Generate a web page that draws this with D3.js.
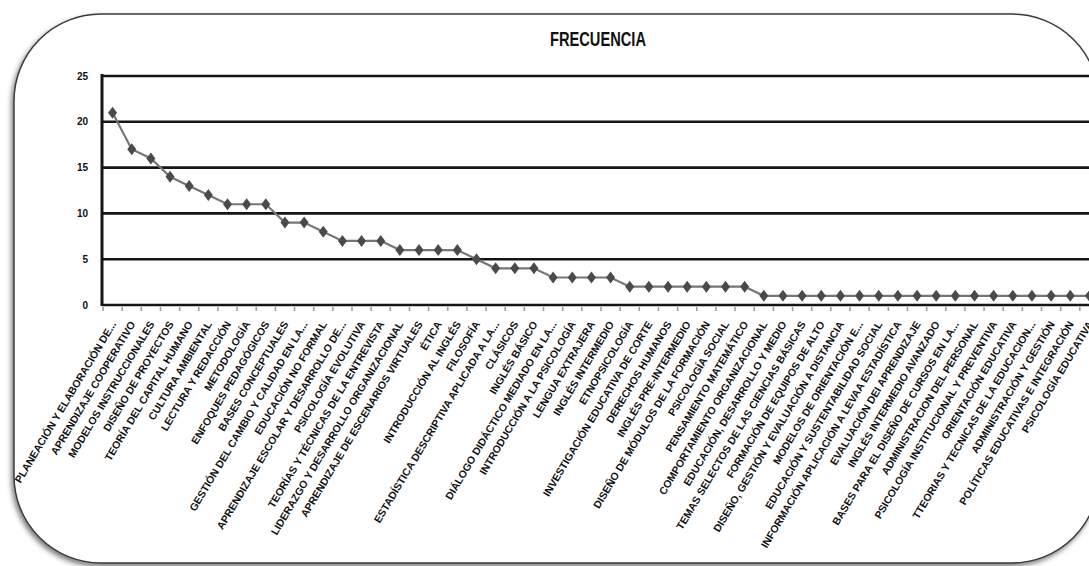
<!DOCTYPE html>
<html>
<head>
<meta charset="utf-8">
<script src="https://cdn.jsdelivr.net/npm/d3@7"></script>
<style>
  body { margin: 0; background: #fff; }
  svg { display: block; }
</style>
</head>
<body>
<script>
var categorias = [
  "PLANEACIÓN Y ELABORACIÓN DE...", "APRENDIZAJE COOPERATIVO", "MODELOS INSTRUCCIONALES",
  "DISEÑO DE PROYECTOS", "TEORÍA DEL CAPITAL HUMANO", "CULTURA AMBIENTAL",
  "LECTURA Y REDACCIÓN", "METODOLOGÍA", "ENFOQUES PEDAGÓGICOS", "BASES CONCEPTUALES",
  "GESTIÓN DEL CAMBIO Y CALIDAD EN LA...", "EDUCACIÓN NO FORMAL",
  "APRENDIZAJE ESCOLAR Y DESARROLLO DE...", "PSICOLOGÍA EVOLUTIVA",
  "TEORÍAS Y TÉCNICAS DE LA ENTREVISTA", "LIDERAZGO Y DESARROLLO ORGANIZACIONAL",
  "APRENDIZAJE DE ESCENARIOS VIRTUALES", "ÉTICA", "INTRODUCCIÓN AL INGLÉS", "FILOSOFÍA",
  "ESTADÍSTICA DESCRIPTIVA APLICADA A LA...", "CLÁSICOS", "INGLÉS BÁSICO",
  "DIÁLOGO DIDÁCTICO MEDIADO EN LA...", "INTRODUCCIÓN A LA PSICOLOGÍA", "LENGUA EXTRAJERA",
  "INGLÉS INTERMEDIO", "ETNOPSICOLOGÍA", "INVESTIGACIÓN EDUCATIVA DE CORTE",
  "DERECHOS HUMANOS", "INGLÉS PRE-INTERMEDIO", "DISEÑO DE MÓDULOS DE LA FORMACIÓN",
  "PSICOLOGÍA SOCIAL", "PENSAMIENTO MATEMÁTICO", "COMPORTAMIENTO ORGANIZACIONAL",
  "EDUCACIÓN, DESARROLLO Y MEDIO", "TEMAS SELECTOS DE LAS CIENCIAS BÁSICAS",
  "FORMACIÓN DE EQUIPOS DE ALTO", "DISEÑO, GESTIÓN Y EVALUACIÓN A DISTANCIA",
  "MODELOS DE ORIENTACIÓN E...", "EDUCACIÓN Y SUSTENTABILIDAD SOCIAL",
  "INFORMACIÓN APLICACIÓN A LEVAA ESTADÍSTICA", "EVALUACIÓN DEI APRENDIZAJE",
  "INGLÉS INTERMEDIO AVANZADO", "BASES PARA EL DISEÑO DE CURSOS EN LA...",
  "ADMINISTRACION DEL PERSONAL", "PSICOLOGÍA INSTITUCIONAL Y PREVENTIVA",
  "ORIENTACIÓN EDUCATIVA", "TTEORIAS Y TECNICAS DE LA EDUCACION...",
  "ADMINISTRACIÓN Y GESTIÓN", "POLÍTICAS EDUCATIVAS E INTEGRACIÓN", "PSICOLOGÍA EDUCATIVA"
];
var frecuencia = [21, 17, 16, 14, 13, 12, 11, 11, 11, 9, 9, 8, 7, 7, 7, 6, 6, 6, 6, 5,
  4, 4, 4, 3, 3, 3, 3, 2, 2, 2, 2, 2, 2, 2, 1, 1, 1, 1, 1, 1, 1, 1, 1, 1, 1, 1, 1, 1, 1, 1, 1, 1];
var yTicks = [0, 5, 10, 15, 20, 25];

var width = 1089;
var height = 566;

var svg = d3.select('body')
    .append('svg')
    .attr('width', width)
    .attr('height', height);

// sombra del marco
var defs = svg.append('defs');
var filtro = defs.append('filter')
    .attr('id', 'sombra')
    .attr('x', '-5%').attr('y', '-5%')
    .attr('width', '110%').attr('height', '110%');
filtro.append('feDropShadow')
    .attr('dx', -2).attr('dy', 3)
    .attr('stdDeviation', 2.5)
    .attr('flood-color', '#000')
    .attr('flood-opacity', 0.5);

svg.append('rect')
    .attr('x', 14).attr('y', 14)
    .attr('width', 1085).attr('height', 549)
    .attr('rx', 87).attr('ry', 87)
    .attr('fill', '#fff')
    .attr('stroke', '#3a3a3a')
    .attr('stroke-width', 1.5)
    .attr('filter', 'url(#sombra)');

var x = d3.scaleBand()
    .domain(categorias)
    .range([103, 1099]);

var y = d3.scaleLinear()
    .domain([0, 25])
    .range([305, 76]);

// titulo
svg.append('text')
    .text('FRECUENCIA')
    .attr('x', 598)
    .attr('y', 46)
    .attr('text-anchor', 'middle')
    .attr('font-family', '"Liberation Sans Narrow", "Arial Narrow", sans-serif')
    .attr('font-weight', 'bold')
    .attr('font-size', '21px')
    .attr('textLength', 96)
    .attr('lengthAdjust', 'spacingAndGlyphs')
    .attr('fill', '#111');

// lineas de division
svg.selectAll('line.grid')
    .data(yTicks)
    .enter()
    .append('line')
    .attr('class', 'grid')
    .attr('x1', 102)
    .attr('x2', 1089)
    .attr('y1', function (d) { return y(d); })
    .attr('y2', function (d) { return y(d); })
    .attr('stroke', '#151515')
    .attr('stroke-width', 2.6);

// eje vertical
svg.append('line')
    .attr('x1', 102).attr('x2', 102)
    .attr('y1', 74).attr('y2', 306)
    .attr('stroke', '#151515')
    .attr('stroke-width', 3);

// etiquetas eje y
svg.selectAll('text.ytick')
    .data(yTicks)
    .enter()
    .append('text')
    .attr('class', 'ytick')
    .text(function (d) { return d; })
    .attr('x', 88)
    .attr('y', function (d) { return y(d) + 3.5; })
    .attr('text-anchor', 'end')
    .attr('font-family', '"Liberation Sans", Arial, sans-serif')
    .attr('font-weight', 'bold')
    .attr('font-size', '10px')
    .attr('fill', '#111');

// marcas del eje x
var bordes = categorias.map(function (c) { return x(c); });
svg.selectAll('line.xtick')
    .data(bordes)
    .enter()
    .append('line')
    .attr('class', 'xtick')
    .attr('x1', function (d) { return d; })
    .attr('x2', function (d) { return d; })
    .attr('y1', 307)
    .attr('y2', 311)
    .attr('stroke', '#999')
    .attr('stroke-width', 1.5);

// etiquetas eje x
svg.selectAll('text.xlab')
    .data(categorias)
    .enter()
    .append('text')
    .attr('class', 'xlab')
    .text(function (d) { return d; })
    .attr('transform', function (d) {
        var cx = x(d) + x.bandwidth() / 2 + 4;
        return 'translate(' + cx + ',324) rotate(-59)';
    })
    .attr('text-anchor', 'end')
    .attr('font-family', '"Liberation Sans", Arial, sans-serif')
    .attr('font-weight', 'bold')
    .attr('font-size', '10.5px')
    .attr('fill', '#111');

// serie
var linea = d3.line()
    .x(function (d, i) { return x(categorias[i]) + x.bandwidth() / 2; })
    .y(function (d) { return y(d); });

svg.append('path')
    .datum(frecuencia)
    .attr('d', linea)
    .attr('fill', 'none')
    .attr('stroke', '#767676')
    .attr('stroke-width', 2.2);

svg.selectAll('path.marca')
    .data(frecuencia)
    .enter()
    .append('path')
    .attr('class', 'marca')
    .attr('d', 'M0,-6 L4.5,0 L0,6 L-4.5,0 Z')
    .attr('transform', function (d, i) {
        return 'translate(' + (x(categorias[i]) + x.bandwidth() / 2) + ',' + y(d) + ')';
    })
    .attr('fill', '#4a4a4a');
</script>
</body>
</html>
